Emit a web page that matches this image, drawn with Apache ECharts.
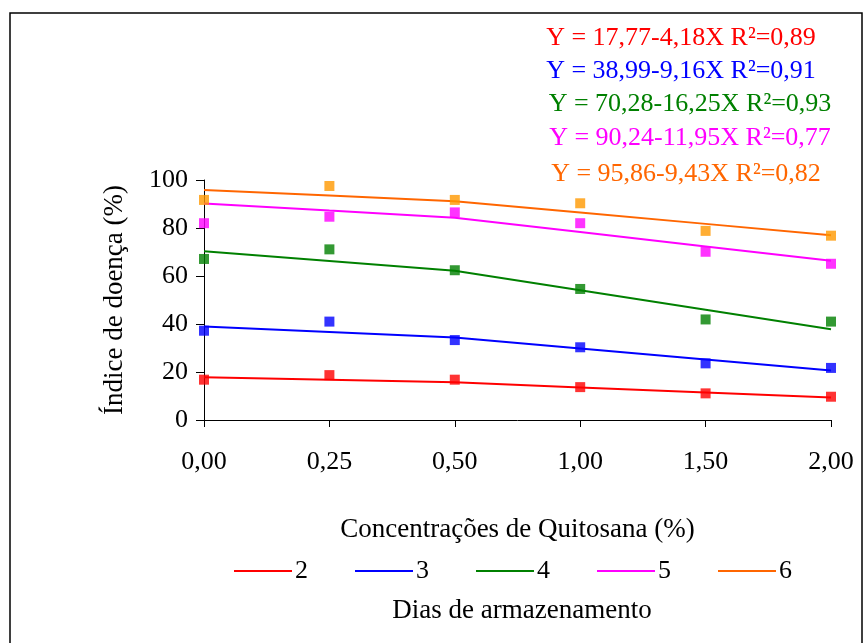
<!DOCTYPE html>
<html>
<head>
<meta charset="utf-8">
<script src="https://cdn.jsdelivr.net/npm/echarts@6/dist/echarts.min.js"></script>
<style>
  html, body { margin: 0; padding: 0; background: #fff; }
  #chart { width: 868px; height: 643px; }
</style>
</head>
<body>
<div id="chart"></div>
<script>
// Concentrações de quitosana (eixo X, categorias)
const concentracoes = ['0,00', '0,25', '0,50', '1,00', '1,50', '2,00'];
// Dias de armazenamento (séries)
const dias = ['2', '3', '4', '5', '6'];

// Valores observados (índice de doença, %)
const obs2 = [16.8, 18.7, 16.8, 13.7, 11.1, 9.7];
const obs3 = [37.2, 41.0, 33.3, 30.3, 23.6, 21.7];
const obs4 = [67.1, 71.1, 62.4, 54.6, 41.9, 41.0];
const obs5 = [82.0, 84.7, 86.5, 82.0, 70.1, 65.1];
const obs6 = [91.7, 97.5, 91.7, 90.3, 78.8, 76.8];

// Valores ajustados pelas equações de regressão
const fit2 = [17.77, 16.73, 15.68, 13.59, 11.50, 9.41];
const fit3 = [38.99, 36.70, 34.41, 29.83, 25.25, 20.67];
const fit4 = [70.28, 66.22, 62.16, 54.03, 45.91, 37.78];
const fit5 = [90.24, 87.25, 84.27, 78.29, 72.32, 66.34];
const fit6 = [95.86, 93.50, 91.15, 86.43, 81.72, 77.00];

// Equações exibidas no canto superior
const equacoes = [
  'Y = 17,77-4,18X R²=0,89',
  'Y = 38,99-9,16X R²=0,91',
  'Y = 70,28-16,25X R²=0,93',
  'Y = 90,24-11,95X R²=0,77',
  'Y = 95,86-9,43X R²=0,82'
];

const yTicks = [0, 20, 40, 60, 80, 100];

const lineColors = ['#FF0000', '#0000FF', '#008000', '#FF00FF', '#FF6600'];
const pointColors = ['#FF0000', '#0000FF', '#008000', '#FF00FF', '#FF9900'];
const eqColors = ['#FF0000', '#0000FF', '#008000', '#FF00FF', '#FF6600'];
const eqY = [38, 71, 104, 138, 174];
const eqX = [681, 681, 690, 690, 686];

const fits = [fit2, fit3, fit4, fit5, fit6];
const obs = [obs2, obs3, obs4, obs5, obs6];
const FONT = 'Liberation Serif';

const series = [];
dias.forEach((d, i) => {
  series.push({
    name: d,
    type: 'line',
    data: fits[i],
    symbol: 'none',
    lineStyle: { color: lineColors[i], width: 2 },
    itemStyle: { color: lineColors[i] },
    z: 2,
    animation: false
  });
});
dias.forEach((d, i) => {
  series.push({
    name: 'obs' + d,
    type: 'scatter',
    data: obs[i],
    symbol: 'rect',
    symbolSize: 10,
    itemStyle: { color: pointColors[i] },
    z: 3,
    animation: false
  });
});

const graphics = [
  {
    type: 'rect',
    shape: { x: 10, y: 13, width: 852, height: 700 },
    style: { fill: 'none', stroke: '#000', lineWidth: 1.5 },
    silent: true
  },
  {
    type: 'text',
    x: 522,
    y: 611,
    style: {
      text: 'Dias de armazenamento',
      font: '27px "' + FONT + '"',
      fill: '#000',
      textAlign: 'center',
      textVerticalAlign: 'middle'
    }
  }
];
equacoes.forEach((t, i) => {
  graphics.push({
    type: 'text',
    x: eqX[i],
    y: eqY[i],
    style: {
      text: t,
      font: '26px "' + FONT + '"',
      fill: eqColors[i],
      textAlign: 'center',
      textVerticalAlign: 'middle'
    }
  });
});

const chart = echarts.init(document.getElementById('chart'), null, { renderer: 'canvas' });
chart.setOption({
  backgroundColor: '#fff',
  animation: false,
  grid: { left: 204, right: 37, top: 180, bottom: 223, containLabel: false },
  legend: {
    data: dias,
    left: 229,
    top: 553,
    itemWidth: 58,
    itemHeight: 14,
    itemGap: 47,
    textStyle: { fontFamily: FONT, fontSize: 26, color: '#000', padding: [0, 0, 0, -2] },
    icon: 'path://M0,6 L57,6 L57,8 L0,8 Z'
  },
  xAxis: {
    type: 'category',
    data: concentracoes,
    boundaryGap: false,
    name: 'Concentrações de Quitosana (%)',
    nameLocation: 'middle',
    nameGap: 96,
    nameTextStyle: { fontFamily: FONT, fontSize: 27, color: '#000' },
    axisLine: { lineStyle: { color: '#000', width: 1 } },
    axisTick: { show: true, inside: false, length: 7, alignWithLabel: true, lineStyle: { color: '#000' } },
    axisLabel: { fontFamily: FONT, fontSize: 26, color: '#000', margin: 29, interval: 0 },
    splitLine: { show: false }
  },
  yAxis: {
    type: 'value',
    min: 0,
    max: 100,
    interval: 20,
    name: 'Índice de doença (%)',
    nameLocation: 'middle',
    nameGap: 76,
    nameRotate: 90,
    nameTextStyle: { fontFamily: FONT, fontSize: 27, color: '#000' },
    axisLine: { show: true, lineStyle: { color: '#000', width: 1 } },
    axisTick: { show: true, inside: false, length: 8, lineStyle: { color: '#000' } },
    axisLabel: { fontFamily: FONT, fontSize: 26, color: '#000', margin: 16,
      formatter: v => yTicks.indexOf(v) >= 0 ? String(v) : '' },
    splitLine: { show: false }
  },
  series: series,
  graphic: graphics
});
</script>
</body>
</html>
